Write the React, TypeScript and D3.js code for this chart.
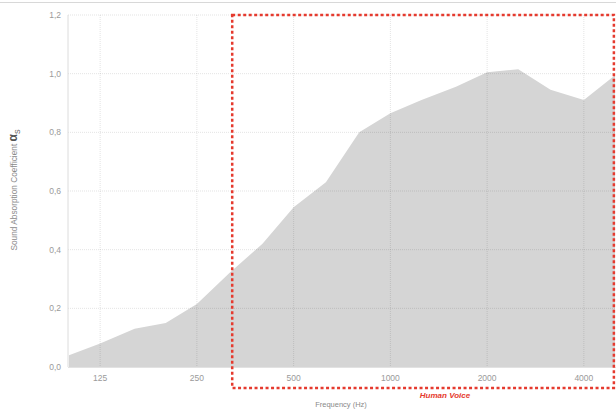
import * as d3 from 'd3'

// third-octave band centre frequencies (Hz) and absorption coefficient
const freqs = [100, 125, 160, 200, 250, 315, 400, 500, 630, 800, 1000, 1250, 1600, 2000, 2500, 3150, 4000, 5000]
const alpha = [0.04, 0.08, 0.13, 0.15, 0.215, 0.32, 0.42, 0.545, 0.63, 0.8, 0.865, 0.91, 0.955, 1.005, 1.015, 0.945, 0.91, 0.995]

const xTicks = [125, 250, 500, 1000, 2000, 4000]
const yTicks = [0, 0.2, 0.4, 0.6, 0.8, 1.0, 1.2]
// frequency span of the "Human Voice" box
const voiceRange = [322, 4960]

const W = 616
const H = 410

export default function App() {
  const x = d3.scaleLog().domain([100, 5000]).range([69, 615])
  const y = d3.scaleLinear().domain([0, 1.2]).range([367, 15])
  const fmt = (v: number) => v.toFixed(1).replace('.', ',')

  const pts = freqs.map((f, i) => ({ f, a: alpha[i] }))
  const area = d3
    .area<{ f: number; a: number }>()
    .x((d) => x(d.f))
    .y0(y(0))
    .y1((d) => y(d.a))

  const font = 'Helvetica, "Liberation Sans", Arial, sans-serif'

  return (
    <svg
      width={W}
      height={H}
      style={{ position: 'absolute', left: 0, top: 0, background: '#fff' }}
      fontFamily={font}
    >
      {/* top border */}
      <line x1={0} x2={W} y1={2.5} y2={2.5} stroke="#d8d8d8" strokeWidth={1} />

      <path d={area(pts) ?? ''} fill="#d5d5d5" />

      {/* grid */}
      {yTicks.slice(1).map((t) => (
        <line
          key={'gy' + t}
          x1={68}
          x2={W}
          y1={y(t)}
          y2={y(t)}
          stroke="rgba(0,0,0,0.11)"
          strokeWidth={1}
          strokeDasharray="1,1"
        />
      ))}
      {xTicks.map((t) => (
        <line
          key={'gx' + t}
          x1={x(t)}
          x2={x(t)}
          y1={y(1.2)}
          y2={y(0)}
          stroke="rgba(0,0,0,0.11)"
          strokeWidth={1}
          strokeDasharray="1,1"
        />
      ))}
      <line x1={68} x2={68} y1={y(1.2)} y2={y(0)} stroke="#dcdcdc" strokeWidth={1} />
      <line x1={68} x2={W} y1={y(0) + 0.5} y2={y(0) + 0.5} stroke="#e2e2e2" strokeWidth={1} />

      {/* y tick labels */}
      {yTicks.map((t) => (
        <text key={'ly' + t} x={61} y={y(t) + 3} textAnchor="end" fontSize={8.5} fill="#9a9a9a">
          {fmt(t)}
        </text>
      ))}
      {/* x tick labels */}
      {xTicks.map((t) => (
        <text key={'lx' + t} x={x(t)} y={381} textAnchor="middle" fontSize={8.5} fill="#9a9a9a">
          {t}
        </text>
      ))}

      {/* Human Voice box */}
      <rect
        x={x(voiceRange[0])}
        y={15}
        width={x(voiceRange[1]) - x(voiceRange[0])}
        height={373}
        fill="none"
        stroke="#e53a2e"
        strokeWidth={2.5}
        strokeDasharray="3,2.5"
      />
      <text
        x={445}
        y={398}
        textAnchor="middle"
        fontSize={8}
        fontWeight="bold"
        fontStyle="italic"
        fill="#e53a2e"
      >
        Human Voice
      </text>

      <text x={341} y={407} textAnchor="middle" fontSize={7.5} fill="#8a8a8a">
        Frequency (Hz)
      </text>

      <text transform="translate(17,190) rotate(-90)" textAnchor="middle" fontSize={8.3} fill="#8a8a8a">
        Sound Absorption Coefficient{' '}
        <tspan fontSize={12} fontWeight="bold" fill="#555">
          α
        </tspan>
        <tspan fontSize={7} fill="#555" dy={3}>
          S
        </tspan>
      </text>
    </svg>
  )
}
